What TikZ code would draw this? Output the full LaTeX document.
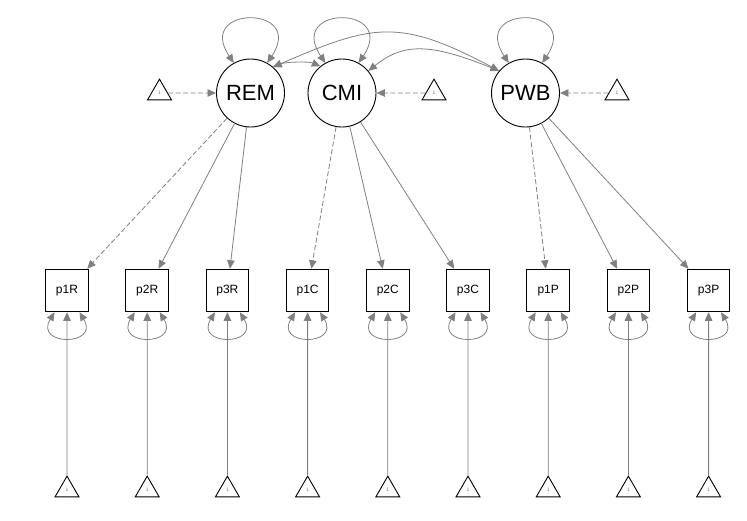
\documentclass[tikz,border=0pt]{standalone}
\usepackage{fontspec}
\setmainfont{Liberation Sans}
\usetikzlibrary{arrows.meta,shapes.geometric}
\definecolor{edgec}{HTML}{808080}
\begin{document}
\begin{tikzpicture}[x=1pt,y=-1pt,
  lat/.style={circle,draw=black,line width=0.9pt,minimum size=68pt,inner sep=0pt,font=\fontsize{22}{24}\selectfont},
  man/.style={rectangle,draw=black,line width=1pt,minimum width=42.5pt,minimum height=42.5pt,inner sep=0pt,font=\fontsize{12}{14}\selectfont},
  tri/.style={regular polygon,regular polygon sides=3,draw=black,line width=0.9pt,minimum size=27.7pt,inner sep=0pt,font=\fontsize{5}{6}\selectfont,text=black!55},
  arr/.style={draw=edgec,line width=0.8pt,-{Triangle[length=8.5pt,width=7.5pt]}},
  barr/.style={draw=edgec,line width=0.8pt,{Triangle[length=8.5pt,width=7.5pt]}-{Triangle[length=8.5pt,width=7.5pt]}},
  dsh/.style={dash pattern=on 5pt off 2.5pt}]
\useasboundingbox (0,0) rectangle (747,520);
% latent variables
\node[lat] (REM) at (250.5,93) {REM};
\node[lat] (CMI) at (342,93) {CMI};
\node[lat] (PWB) at (525.5,93) {PWB};
% intercept triangles of latents
\node[tri] (tREM) at (159.5,93) {1};
\node[tri] (tCMI) at (434,93) {1};
\node[tri] (tPWB) at (617,93) {1};
% manifest variables
\node[man] (p1R) at (67,290.5) {p1R};
\node[man] (p2R) at (147.2,290.5) {p2R};
\node[man] (p3R) at (227.4,290.5) {p3R};
\node[man] (p1C) at (307.6,290.5) {p1C};
\node[man] (p2C) at (387.8,290.5) {p2C};
\node[man] (p3C) at (468,290.5) {p3C};
\node[man] (p1P) at (548.2,290.5) {p1P};
\node[man] (p2P) at (628.4,290.5) {p2P};
\node[man] (p3P) at (708.6,290.5) {p3P};
% intercept triangles of manifests
\node[tri] (b1) at (67,490) {1};
\node[tri] (b2) at (147.2,490) {1};
\node[tri] (b3) at (227.4,490) {1};
\node[tri] (b4) at (307.6,490) {1};
\node[tri] (b5) at (387.8,490) {1};
\node[tri] (b6) at (468,490) {1};
\node[tri] (b7) at (548.2,490) {1};
\node[tri] (b8) at (628.4,490) {1};
\node[tri] (b9) at (708.6,490) {1};
% loadings
\draw[arr,dsh] (REM) -- (p1R);
\draw[arr] (REM) -- (p2R);
\draw[arr] (REM) -- (p3R);
\draw[arr,dsh] (CMI) -- (p1C);
\draw[arr] (CMI) -- (p2C);
\draw[arr] (CMI) -- (p3C);
\draw[arr,dsh] (PWB) -- (p1P);
\draw[arr] (PWB) -- (p2P);
\draw[arr] (PWB) -- (p3P);
% latent intercepts
\draw[arr,dsh] (tREM) -- (REM);
\draw[arr,dsh] (tCMI) -- (CMI);
\draw[arr,dsh] (tPWB) -- (PWB);
% manifest intercepts
\foreach \b/\p in {b1/p1R,b2/p2R,b3/p3R,b4/p1C,b5/p2C,b6/p3C,b7/p1P,b8/p2P,b9/p3P}{
  \draw[arr] (\b) -- (\p);
  \draw[barr] ([xshift=-12.5pt]\p.south) .. controls +(-20.5,34) and +(20.5,34) .. ([xshift=12.5pt]\p.south);
}
% latent variances
\foreach \l in {REM,CMI,PWB}{
  \draw[barr] (\l.119) .. controls +(-39,-58) and +(39,-58) .. (\l.61);
}
% covariances
\draw[barr] (REM.49) .. controls +(12,-5) and +(-12,-5) .. (CMI.129);
\draw[barr] (REM.49) .. controls +(100,-43.3) and +(-100,-53) .. (PWB.140);
\draw[barr] (CMI.40) .. controls +(35,-28) and +(-69.5,-28) .. (PWB.140);
\end{tikzpicture}
\end{document}
